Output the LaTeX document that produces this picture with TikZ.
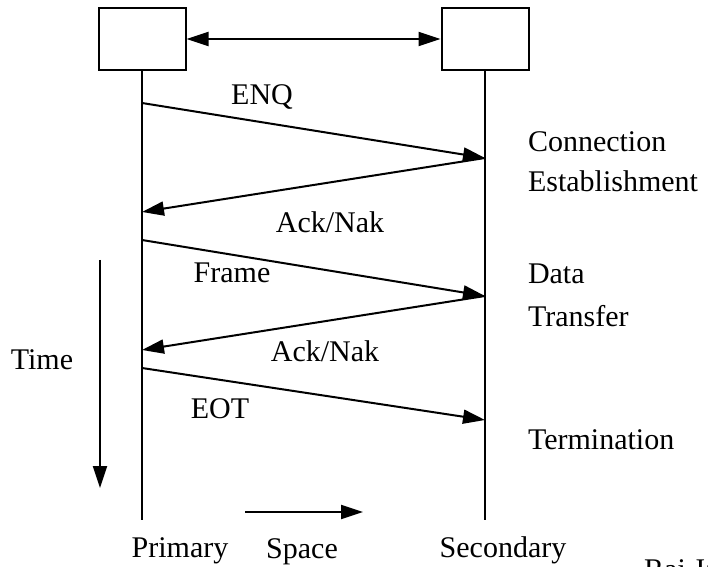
\documentclass[tikz,border=0pt]{standalone}
\usepackage{fontspec}
\setmainfont{Liberation Serif}
\usepackage{tikz}
\usetikzlibrary{positioning, arrows.meta, calc}

\begin{document}
\begin{tikzpicture}[x=0.5pt, y=-0.5pt,
        line width=1pt,
        msg/.style={-{Triangle[length=11pt, width=7pt]}},
        station/.style={draw, minimum width=43.5pt, minimum height=31pt, inner sep=0pt},
        lbl/.style={font=\fontsize{15}{18}\selectfont, inner sep=0pt, anchor=base},
        side/.style={lbl, anchor=base west}]
    \useasboundingbox (0,0) rectangle (708,567);

    \def\xprim{142}
    \def\xsec{485}

    % stations
    \node[station] (primbox) at (\xprim,39) {};
    \node[station] (secbox) at (\xsec,39) {};
    \draw[{Triangle[length=11pt, width=7pt]}-{Triangle[length=11pt, width=7pt]}]
        (primbox.east) -- (secbox.west);

    % lifelines
    \coordinate (primend) at (\xprim,520);
    \coordinate (secend) at (\xsec,520);
    \draw (primbox.south) -- (primend);
    \draw (secbox.south) -- (secend);

    % message points
    \foreach \name/\x/\y in {p1/\xprim/103, s1/\xsec/158, p2/\xprim/212,
                             p3/\xprim/240, s2/\xsec/296, p4/\xprim/350,
                             p5/\xprim/368, s3/\xsec/420}
    {
        \coordinate (\name) at (\x,\y);
    }

    % messages
    \draw[msg] (p1) -- (s1);
    \draw[msg] (s1) -- (p2);
    \draw[msg] (p3) -- (s2);
    \draw[msg] (s2) -- (p4);
    \draw[msg] (p5) -- (s3);

    \node[lbl] (enq) at (262,105) {ENQ};
    \node[lbl] (ack1) at (330,233) {Ack/Nak};
    \node[lbl] (frame) at (232,283) {Frame};
    \node[lbl] (ack2) at (325,361) {Ack/Nak};
    \node[lbl] (eot) at (220,418) {EOT};

    % phases
    \node[side] (conn) at (527,152) {Connection};
    \node[side] (estab) at (527,192) {Establishment};
    \node[side] (data) at (527,284) {Data};
    \node[side] (transfer) at (527,327) {Transfer};
    \node[side] (term) at (527,449) {Termination};

    % axes
    \coordinate (ttop) at (100,260);
    \coordinate (tbot) at (100,488);
    \draw[msg] (ttop) -- (tbot);
    \node[lbl] (time) at (42,370) {Time};

    \coordinate (sleft) at (245,512);
    \coordinate (sright) at (363,512);
    \draw[msg] (sleft) -- (sright);
    \node[lbl] (space) at (302,558) {Space};

    \node[lbl] (prim) at (180,557) {Primary};
    \node[lbl] (sec) at (503,557) {Secondary};

    \node[side] (author) at (643,579) {Raj Jain};
\end{tikzpicture}
\end{document}
